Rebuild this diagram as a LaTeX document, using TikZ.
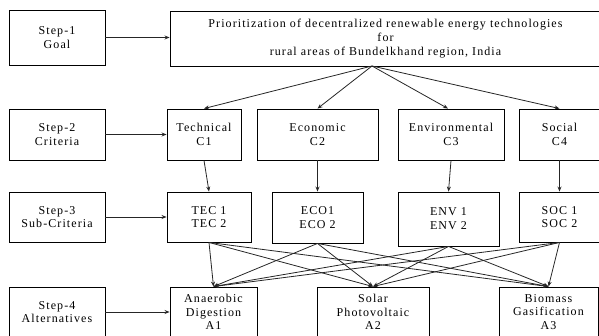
\documentclass[tikz,border=0pt]{standalone}
\usepackage{fontspec}
\setmainfont{Liberation Serif}[LetterSpace=9]
\usetikzlibrary{arrows.meta,calc}
\tikzset{
  box/.style={draw=black,line width=0.9pt,rectangle,align=center,inner sep=0pt,
    font=\fontsize{12}{13.8}\selectfont,text=black},
  arr/.style={draw=black!85,line width=0.8pt,-{Stealth[length=5pt,width=4pt]}},
  xarr/.style={draw=black!85,line width=0.8pt,-{Stealth[length=5pt,width=4pt]}}
}
\begin{document}
\begin{tikzpicture}[x=1pt,y=-1pt]
\useasboundingbox (0,0) rectangle (599,336);
% step boxes
\node[box,minimum width=96pt,minimum height=55pt] (s1) at (57,37.5) {Step-1\\Goal};
\node[box,minimum width=96pt,minimum height=51pt] (s2) at (57,134.5) {Step-2\\Criteria};
\node[box,minimum width=96pt,minimum height=50pt] (s3) at (57,217) {Step-3\\Sub-Criteria};
\node[box,minimum width=96pt,minimum height=50pt] (s4) at (57,312) {Step-4\\Alternatives};
% goal
\node[box,minimum width=431pt,minimum height=55pt] (goal) at (385.5,38.5)
  {Prioritization of decentralized renewable energy technologies\\for\\rural areas of Bundelkhand region, India};
% criteria
\node[box,minimum width=74pt,minimum height=51pt] (c1) at (204,134.5) {Technical\\C1};
\node[box,minimum width=121pt,minimum height=51pt] (c2) at (317.5,134.5) {Economic\\C2};
\node[box,minimum width=106pt,minimum height=51pt] (c3) at (451,134.5) {Environmental\\C3};
\node[box,minimum width=81pt,minimum height=51pt] (c4) at (559.5,134.5) {Social\\C4};
% sub-criteria
\node[box,minimum width=84pt,minimum height=50pt] (t1) at (209,217) {TEC 1\\TEC 2};
\node[box,minimum width=91pt,minimum height=51pt] (t2) at (317.5,217.5) {ECO1\\ECO 2};
\node[box,minimum width=101pt,minimum height=54pt] (t3) at (448.5,219) {ENV 1\\ENV 2};
\node[box,minimum width=81pt,minimum height=50pt] (t4) at (559.5,217) {SOC 1\\SOC 2};
% alternatives
\node[box,minimum width=87pt,minimum height=50pt] (a1) at (213.5,312) {Anaerobic\\Digestion\\A1};
\node[box,minimum width=112pt,minimum height=50pt] (a2) at (373,312) {Solar\\Photovoltaic\\A2};
\node[box,minimum width=99pt,minimum height=50pt] (a3) at (548.5,312) {Biomass\\Gasification\\A3};
% step arrows
\draw[arr] (s1.east) -- (goal.west |- s1.east);
\draw[arr] (s2.east) -- (c1.west |- s2.east);
\draw[arr] (s3.east) -- (t1.west |- s3.east);
\draw[arr] (s4.east) -- (a1.west |- s4.east);
% goal to criteria
\coordinate (gb) at (372,66);
\draw[arr] (gb) -- (c1.north);
\draw[arr] (gb) -- (c2.north);
\draw[arr] (gb) -- ($(c3.north)+(-3,0)$);
\draw[arr] (gb) -- (c4.north);
% criteria to sub-criteria
\draw[arr] (c1.south) -- (t1.north);
\draw[arr] (c2.south) -- (t2.north);
\draw[arr] (c3.south) -- (t3.north);
\draw[arr] (c4.south) -- (t4.north);
% sub-criteria to alternatives
\foreach \t in {t1,t2,t3,t4}{
  \foreach \a in {a1,a2,a3}{
    \draw[xarr] (\t.south) -- (\a.north);
  }
}
\end{tikzpicture}
\end{document}
